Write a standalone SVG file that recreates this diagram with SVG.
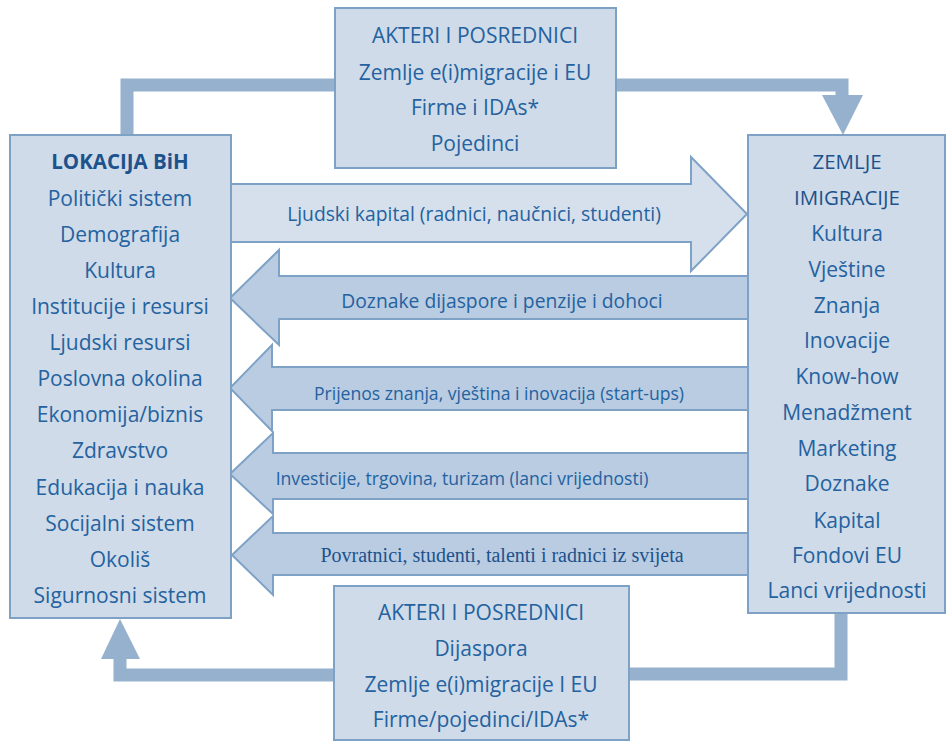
<svg xmlns="http://www.w3.org/2000/svg" width="947" height="742" viewBox="0 0 947 742">
<style>
.box{fill:#cfdbe8;stroke:#7ea2c6;stroke-width:2}
.arrR{fill:#d5e0ec;stroke:#7ea2c6;stroke-width:2}
.arrL{fill:#b9cce1;stroke:#7ea2c6;stroke-width:2}
.conn{fill:none;stroke:#95b1cd;stroke-width:13;stroke-linejoin:miter}
.head{fill:#95b1cd}
text{font-family:"Open Sans",Lato,"Liberation Sans",sans-serif;fill:#2462a0;text-anchor:middle;dominant-baseline:central}
.t{font-size:21px}
.b{font-size:20.5px;font-weight:bold;fill:#1d528c}
.h{font-size:20.5px;fill:#1d528c}
.a{font-size:19.3px}
.s{font-size:17.6px}
.serif{font-family:"Liberation Serif","Times New Roman",serif;font-size:20px;fill:#1d528c}
</style>
<g id="connectors">
<path class="conn" d="M127,136 V85 H336"/>
<path class="conn" d="M615,85 H842 V96"/>
<polygon class="head" points="822,95 863,95 843,135"/>
<path class="conn" d="M335,675 H120 V655"/>
<polygon class="head" points="101,659 140,659 120,619"/>
<path class="conn" d="M628,674 H841 V612"/>
</g>
<g id="arrow-ljudski">
<polygon class="arrR" points="231,184 691,184 691,157 747,214 691,271 691,242 231,242"/>
<text class="a" x="474" y="213">Ljudski kapital (radnici, naučnici, studenti)</text>
</g>
<g id="arrow-doznake">
<polygon class="arrL" points="749,276 279,276 279,250 230,298 279,345 279,319 749,319"/>
<text class="a" x="502" y="300">Doznake dijaspore i penzije i dohoci</text>
</g>
<g id="arrow-prijenos">
<polygon class="arrL" points="749,367 272,367 272,345 230,388 272,431 272,410 749,410"/>
<text class="s" x="499" y="393">Prijenos znanja, vještina i inovacija (start-ups)</text>
</g>
<g id="arrow-investicije">
<polygon class="arrL" points="749,453 273,453 273,433 230,474 273,514 273,499 749,499"/>
<text class="s" x="462" y="478">Investicije, trgovina, turizam (lanci vrijednosti)</text>
</g>
<g id="arrow-povratnici">
<polygon class="arrL" points="749,533 273,533 273,516 232,555 273,595 273,575 749,575"/>
<text class="serif" x="502" y="555">Povratnici, studenti, talenti i radnici iz svijeta</text>
</g>
<g id="top-box">
<rect class="box" x="335" y="8" width="281" height="160"/>
<text class="t" x="475" y="35">AKTERI I POSREDNICI</text>
<text class="t" x="475" y="72">Zemlje e(i)migracije i EU</text>
<text class="t" x="475" y="107">Firme i IDAs*</text>
<text class="t" x="475" y="143">Pojedinci</text>
</g>
<g id="left-box">
<rect class="box" x="10" y="135" width="221" height="483"/>
<text class="b" x="120" y="161">LOKACIJA BiH</text>
<text class="t" x="120" y="198">Politički sistem</text>
<text class="t" x="120" y="234">Demografija</text>
<text class="t" x="120" y="270">Kultura</text>
<text class="t" x="120" y="306">Institucije i resursi</text>
<text class="t" x="120" y="342">Ljudski resursi</text>
<text class="t" x="120" y="378">Poslovna okolina</text>
<text class="t" x="120" y="414">Ekonomija/biznis</text>
<text class="t" x="120" y="450">Zdravstvo</text>
<text class="t" x="120" y="487">Edukacija i nauka</text>
<text class="t" x="120" y="523">Socijalni sistem</text>
<text class="t" x="120" y="559">Okoliš</text>
<text class="t" x="120" y="595">Sigurnosni sistem</text>
</g>
<g id="right-box">
<rect class="box" x="748" y="135" width="197" height="478"/>
<text class="h" x="847" y="161">ZEMLJE</text>
<text class="h" x="847" y="197">IMIGRACIJE</text>
<text class="t" x="847" y="233">Kultura</text>
<text class="t" x="847" y="269">Vještine</text>
<text class="t" x="847" y="305">Znanja</text>
<text class="t" x="847" y="340">Inovacije</text>
<text class="t" x="847" y="376">Know-how</text>
<text class="t" x="847" y="412">Menadžment</text>
<text class="t" x="847" y="448">Marketing</text>
<text class="t" x="847" y="483">Doznake</text>
<text class="t" x="847" y="520">Kapital</text>
<text class="t" x="847" y="555">Fondovi EU</text>
<text class="t" x="847" y="590">Lanci vrijednosti</text>
</g>
<g id="bottom-box">
<rect class="box" x="334" y="586" width="295" height="154"/>
<text class="t" x="481" y="612">AKTERI I POSREDNICI</text>
<text class="t" x="481" y="648">Dijaspora</text>
<text class="t" x="481" y="684">Zemlje e(i)migracije I EU</text>
<text class="t" x="481" y="719">Firme/pojedinci/IDAs*</text>
</g>
</svg>
